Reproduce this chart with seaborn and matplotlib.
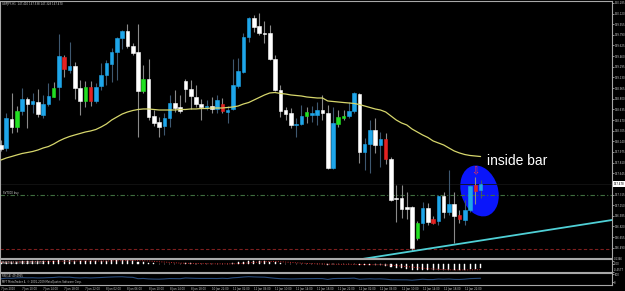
import numpy as np
import pandas as pd
import matplotlib
matplotlib.use("Agg")
import matplotlib.pyplot as plt
import matplotlib.transforms as mtransforms
from matplotlib.patches import Ellipse
import seaborn as sns

# ---------------- data (GBPJPY H1) ----------------
opens = [148.083, 148.036, 148.486, 148.362, 148.61, 148.796, 148.718, 148.749, 148.548, 148.718,
         148.827, 148.982, 149.447, 149.245, 149.307, 148.966, 148.765, 148.982, 148.765, 148.997,
         149.168, 149.338, 149.524, 149.741, 149.85, 149.617, 149.524, 148.92, 149.106, 148.532,
         148.439, 148.377, 148.501, 148.734, 148.672, 149.075, 148.951, 148.827, 148.718, 148.672,
         148.687, 148.641, 148.718, 148.594, 148.641, 148.997, 149.214, 149.757, 150.051, 149.927,
         149.819, 149.819, 149.416, 148.935, 148.625, 148.579, 148.393, 148.408, 148.532, 148.548,
         148.548, 148.625, 148.579, 147.726, 148.408, 148.501, 148.532, 148.61, 148.873, 147.974,
         148.098, 148.315, 148.083, 148.176, 147.866, 147.261, 147.261, 147.122, 147.122, 146.641,
         146.874, 147.106, 146.936, 146.905, 147.292, 147.044, 147.168, 146.998, 146.92, 147.075,
         147.463, 147.385]
highs = [148.16, 148.579, 148.889, 148.687, 148.966, 148.827, 148.889, 148.951, 148.858, 149.044,
         149.059, 149.803, 149.478, 149.679, 149.369, 149.09, 149.075, 149.075, 149.044, 149.354,
         149.40, 149.586, 149.757, 149.865, 149.958, 149.664, 149.958, 149.323, 149.416, 148.625,
         148.517, 148.579, 148.858, 148.935, 148.858, 149.106, 149.09, 149.013, 148.796, 148.78,
         148.827, 148.858, 148.811, 148.687, 149.416, 149.431, 149.819, 150.067, 150.098, 150.129,
         150.005, 149.943, 149.478, 149.013, 148.672, 148.656, 148.501, 148.703, 148.672, 148.687,
         148.749, 148.858, 148.703, 148.672, 148.625, 148.625, 148.749, 148.904, 148.889, 148.191,
         148.47, 148.501, 148.284, 148.269, 147.897, 147.463, 147.463, 147.354, 147.13, 146.905,
         147.199, 147.184, 146.982, 147.308, 147.354, 147.695, 147.354, 147.075, 147.23, 147.463,
         147.587, 147.54]
lows = [147.99, 147.99, 148.269, 148.284, 148.548, 148.346, 148.579, 148.517, 148.501, 148.687,
        148.82, 148.78, 149.137, 149.199, 148.796, 148.548, 148.672, 148.687, 148.734, 148.935,
        149.013, 149.059, 149.09, 149.571, 149.586, 149.478, 148.207, 148.889, 148.47, 148.377,
        148.207, 148.238, 148.362, 148.594, 148.579, 148.749, 148.641, 148.672, 148.47, 148.625,
        148.579, 148.579, 148.579, 148.424, 148.625, 148.966, 149.199, 149.679, 149.834, 149.788,
        149.664, 149.40, 148.92, 148.517, 148.47, 148.346, 148.207, 148.393, 148.424, 148.439,
        148.393, 148.47, 147.711, 147.711, 148.362, 148.47, 148.501, 148.579, 147.804, 147.695,
        147.649, 147.959, 147.742, 147.788, 147.22, 146.889, 146.951, 146.936, 146.44, 146.61,
        146.765, 146.843, 146.858, 146.843, 146.951, 146.998, 146.564, 146.874, 146.843, 147.044,
        147.168, 147.261]
closes = [148.021, 148.501, 148.362, 148.61, 148.796, 148.718, 148.765, 148.563, 148.718, 148.842,
          148.966, 149.462, 149.261, 149.307, 148.966, 148.765, 148.982, 148.765, 148.982, 149.168,
          149.354, 149.524, 149.741, 149.85, 149.617, 149.509, 148.92, 149.106, 148.517, 148.424,
          148.362, 148.501, 148.734, 148.656, 148.61, 148.951, 148.842, 148.718, 148.672, 148.687,
          148.641, 148.78, 148.61, 148.625, 149.013, 149.23, 149.757, 150.051, 149.912, 149.819,
          149.803, 149.416, 148.935, 148.61, 148.563, 148.393, 148.408, 148.532, 148.594, 148.579,
          148.625, 148.579, 147.726, 148.424, 148.517, 148.532, 148.61, 148.889, 147.974, 148.098,
          148.315, 148.083, 148.176, 147.866, 147.23, 147.246, 147.091, 147.091, 146.486, 146.874,
          147.106, 146.889, 146.874, 147.292, 147.044, 147.168, 146.982, 146.936, 147.075, 147.447,
          147.37, 147.478]
green_bars = [3, 10, 16, 27, 58, 64, 65, 79]
red_bars = [12, 17, 42, 73, 82, 87, 90]

ma = [147.85, 147.881, 147.904, 147.928, 147.951, 147.966, 147.982, 148.005, 148.036, 148.059,
      148.098, 148.145, 148.183, 148.214, 148.238, 148.261, 148.284, 148.30, 148.323, 148.362,
      148.408, 148.47, 148.517, 148.563, 148.594, 148.617, 148.633, 148.641, 148.641, 148.633,
      148.625, 148.625, 148.625, 148.625, 148.633, 148.633, 148.641, 148.641, 148.648, 148.648,
      148.656, 148.656, 148.656, 148.664, 148.672, 148.687, 148.718, 148.741, 148.78, 148.819,
      148.858, 148.889, 148.896, 148.881, 148.873, 148.858, 148.850, 148.842, 148.827, 148.819,
      148.811, 148.811, 148.765, 148.757, 148.749, 148.741, 148.734, 148.726, 148.710, 148.687,
      148.664, 148.641, 148.625, 148.594, 148.532, 148.47, 148.424, 148.393, 148.330, 148.284,
      148.238, 148.199, 148.145, 148.114, 148.083, 148.036, 147.99, 147.959, 147.935, 147.920,
      147.912, 147.904]

macd_hist = [0.10, 0.11, 0.12, 0.13, 0.14, 0.14, 0.14, 0.14, 0.14, 0.15,
             0.16, 0.19, 0.19, 0.19, 0.17, 0.15, 0.15, 0.14, 0.15, 0.16,
             0.18, 0.19, 0.21, 0.22, 0.21, 0.19,
             0.12, 0.10, 0.06, 0.03, 0.01, 0.00, 0.01, 0.01, 0.01,
             0.03, 0.02, 0.01, 0.00, -0.01, -0.01, 0.00, -0.01, -0.02,
             0.04, 0.08, 0.13, 0.17, 0.18, 0.17, 0.15, 0.12, 0.08, 0.04,
             0.01, -0.02, -0.03, -0.03, -0.03, -0.03, -0.02, -0.02,
             -0.05, -0.04, -0.04, -0.04, -0.03, -0.02, -0.07, -0.07, -0.06, -0.07, -0.07,
             -0.10, -0.17, -0.22, -0.26, -0.28, -0.35, -0.37, -0.36, -0.37, -0.37,
             -0.35, -0.35, -0.33, -0.35, -0.35, -0.34, -0.30, -0.28, -0.26]
macd_signal = [0.09, 0.09, 0.10, 0.10, 0.11, 0.11, 0.12, 0.12, 0.13, 0.13,
               0.14, 0.14, 0.15, 0.15, 0.16, 0.16, 0.16, 0.16, 0.16, 0.16,
               0.16, 0.17, 0.17, 0.18, 0.18, 0.19,
               0.18, 0.17, 0.16, 0.14, 0.12, 0.10, 0.08, 0.06, 0.04,
               0.03, 0.02, 0.02, 0.01, 0.01, 0.00, 0.00, 0.00, 0.00,
               0.00, 0.01, 0.03, 0.05, 0.08, 0.10, 0.12, 0.13, 0.13, 0.12,
               0.10, 0.08, 0.06, 0.04, 0.02, 0.01, 0.00, -0.01,
               -0.02, -0.02, -0.03, -0.03, -0.03, -0.03, -0.04, -0.04, -0.05, -0.05, -0.05,
               -0.06, -0.08, -0.10, -0.13, -0.16, -0.19, -0.22, -0.25, -0.28, -0.30,
               -0.32, -0.33, -0.34, -0.35, -0.35, -0.35, -0.35, -0.34, -0.33]
rsi = [44, 52, 50, 55, 58, 56, 57, 54, 55, 58, 60,
       66, 63, 64, 57, 54, 57, 54, 57, 60, 63, 66, 68, 69, 64, 62,
       45, 48, 42, 40, 39, 42, 47, 46, 45,
       54, 51, 49, 48, 48, 48, 47, 50, 47,
       56, 60, 66, 70, 67, 65, 64, 57, 50, 45,
       44, 42, 43, 45, 46, 46, 47, 46,
       36, 46, 48, 48, 49, 52, 38, 41, 44, 41, 43,
       39, 32, 32, 31, 31, 26, 32, 38, 34, 34, 41, 38, 41, 36, 35, 39, 46, 48, 50]

time_labels = ["7 Jan 2010", "7 Jan 10:00", "7 Jan 14:00", "7 Jan 18:00", "7 Jan 22:00",
               "8 Jan 02:00", "8 Jan 06:00", "8 Jan 10:00", "8 Jan 14:00", "8 Jan 18:00",
               "10 Jan 22:00", "11 Jan 02:00", "11 Jan 06:00", "11 Jan 10:00", "11 Jan 14:00",
               "11 Jan 18:00", "11 Jan 22:00", "12 Jan 02:00", "12 Jan 06:00", "12 Jan 10:00",
               "12 Jan 14:00", "12 Jan 18:00", "12 Jan 22:00"]
price_ticks = [150.285, 150.120, 149.955, 149.790, 149.625, 149.460, 149.295, 149.130,
               148.965, 148.800, 148.635, 148.470, 148.305, 148.140, 147.975, 147.810,
               147.645, 147.480, 147.315, 147.150, 146.985, 146.820, 146.655, 146.490]
macd_ticks = [0.1346, 0.0, -0.4577]
macd_tick_labels = ["0.1346", "0.00", "-0.4577"]
rsi_ticks = [100, 0]

bid = 147.478
level_buy = 147.30
level_red = 146.47
trend_start_idx = 68.5
trend_anchor_idx = [78, 86]
trend_anchor_price = [146.436, 146.538]
ellipse_center = (90.8, 147.37)
arrow_bar = 90

header = "GBPJPY,H1  147.410 147.538 147.328 147.470"
buy_label = "SV7000 buy"
macd_label = "MACD(12,26,9) -0.2600 -0.3300"
rsi_label = "RSI(14) 49.4955"
copyright_label = "MFT MetaTrader 4, \u00a9 2001-2009 MetaQuotes Software Corp."

# ---------------- styling ----------------
sns.set_theme(style="dark", rc={"axes.facecolor": "black", "figure.facecolor": "black",
                                "axes.grid": False})
plt.rcParams['font.family'] = ['DejaVu Sans']

W, H = 625, 291
fig = plt.figure(figsize=(W / 100, H / 100), dpi=100, facecolor="black")
FS = 1.9


def frac(x0, y0, x1, y1):
    return [x0 / W, 1 - y1 / H, (x1 - x0) / W, (y1 - y0) / H]


ax = fig.add_axes(frac(0, 1, 612, 258))
axm = fig.add_axes(frac(0, 259, 612, 272))
axr = fig.add_axes(frac(0, 273, 612, 284.5))

n = len(opens)
idx = np.arange(n)
df = pd.DataFrame({"i": idx, "o": opens, "h": highs, "l": lows, "c": closes,
                   "ma": ma, "hist_v": macd_hist, "sig": macd_signal, "rsi": rsi})
XL = (-0.19, 115.94)
for a in (ax, axm, axr):
    a.set_facecolor("black")
    a.set_xlim(*XL)
    a.grid(False)
    for s in a.spines.values():
        s.set_color("#a8a8a8")
        s.set_linewidth(0.8)
    a.yaxis.tick_right()
    a.tick_params(axis="y", colors="#c8c8c8", labelsize=FS, length=1.2, width=0.5, pad=0.5)

BLUE = "#1ea6ea"
body_colors, wick_colors = [], []
for i, r in df.iterrows():
    bull = r["c"] >= r["o"]
    if i in green_bars:
        bc = "#22e022"
    elif i in red_bars:
        bc = "#e42222"
    else:
        bc = BLUE if bull else "#ffffff"
    body_colors.append(bc)
    wick_colors.append("#3e5870" if bc == BLUE else "#8a8a8a")

ax.vlines(df["i"], df["l"], df["h"], colors=wick_colors, lw=0.8, zorder=3)
body_h = (df["c"] - df["o"]).abs()
ax.bar(df["i"], body_h, bottom=np.minimum(df["o"], df["c"]), width=0.68, color=body_colors,
       edgecolor=body_colors, linewidth=0.4, zorder=4)

sns.lineplot(data=df, x="i", y="ma", ax=ax, color="#d6d66c", lw=0.9, zorder=5)

ax.axhline(level_buy, color="#3f6e3f", lw=0.8, ls=(0, (4, 2, 1, 2)), zorder=2)
ax.axhline(level_red, color="#7e1e1e", lw=0.8, ls=(0, (3, 2)), zorder=2)

# trend line (ray)
slope = (trend_anchor_price[1] - trend_anchor_price[0]) / (trend_anchor_idx[1] - trend_anchor_idx[0])
tx = np.array([trend_start_idx, XL[1] + 1])
ty = trend_anchor_price[0] + slope * (tx - trend_anchor_idx[0])
ax.plot(tx, ty, color="#4fd0d6", lw=1.3, zorder=6, solid_capstyle="butt")

# ellipse highlight
trans = fig.dpi_scale_trans + mtransforms.ScaledTranslation(ellipse_center[0], ellipse_center[1], ax.transData)
ax.add_patch(Ellipse((0, 0), width=0.37, height=0.52, angle=17, transform=trans,
                     facecolor="#0a16fa", edgecolor="none", zorder=1))
ax.axhline(bid, color="#141414", lw=0.6, zorder=1.5)

ax.annotate("\u21e9", xy=(arrow_bar, highs[arrow_bar]), xytext=(0, 0.5), textcoords="offset points",
            ha="center", va="bottom", color="#ff3a3a", fontsize=7, zorder=7)
ax.text(92.2, 147.84, "inside bar", color="white", fontsize=10, family="Liberation Sans",
        ha="left", va="center", zorder=7)

# axis ticks/labels main
ax.set_ylim(146.331, 150.3145)
ax.set_yticks(price_ticks)
ax.set_yticklabels([f"{v:.3f}" for v in price_ticks])
ax.set_xticks([])
ax.set_xlabel("")
ax.set_ylabel("")
ax.annotate(f"{bid:.3f}", xy=(1, bid), xycoords=("axes fraction", "data"), xytext=(1.0, 0),
            textcoords="offset points", ha="left", va="center", fontsize=FS, color="black",
            bbox=dict(boxstyle="square,pad=0.3", fc="white", ec="none"), annotation_clip=False)
ax.text(0.004, 0.995, header, transform=ax.transAxes, fontsize=FS, color="#d0d0d0",
        ha="left", va="top")
ax.text(3, level_buy, buy_label, transform=mtransforms.blended_transform_factory(
    mtransforms.IdentityTransform(), ax.transData), fontsize=FS, color="#d0d0d0",
        ha="left", va="bottom")

# MACD panel
axm.bar(df["i"], df["hist_v"], width=0.2, color="white", edgecolor="white", linewidth=0.3)
axm.plot(df["i"], df["sig"], color="#c42a2a", lw=0.7, ls=(0, (1, 1.5)))
axm.set_ylim(-0.47, 0.275)
axm.set_yticks(macd_ticks)
axm.set_yticklabels(macd_tick_labels)
mlabels = axm.get_yticklabels()
mlabels[0].set_va("bottom")
mlabels[2].set_va("bottom")
axm.set_xticks([])
axm.text(0.004, 0.7, macd_label, transform=axm.transAxes, fontsize=FS, color="#d0d0d0",
         ha="left", va="center")

# RSI panel
sns.lineplot(data=df, x="i", y="rsi", ax=axr, color="#2a4c7c", lw=0.8)
axr.set_ylim(-27.5, 116)
axr.set_yticks(rsi_ticks)
axr.set_yticklabels([str(v) for v in rsi_ticks])
axr.set_xlabel("")
axr.set_ylabel("")
axr.set_xticks(idx[::4][:len(time_labels)])
axr.set_xticklabels(time_labels, ha="left")
axr.tick_params(axis="x", colors="#c8c8c8", labelsize=FS, length=1.5, width=0.5, pad=0.6)
axr.text(0.004, 0.78, rsi_label, transform=axr.transAxes, fontsize=FS, color="#d0d0d0",
         ha="left", va="center")
axr.text(0.004, 0.26, copyright_label, transform=axr.transAxes, fontsize=FS, color="#d0d0d0",
         ha="left", va="center")

fig.savefig("out.png", dpi=100, facecolor="black")
